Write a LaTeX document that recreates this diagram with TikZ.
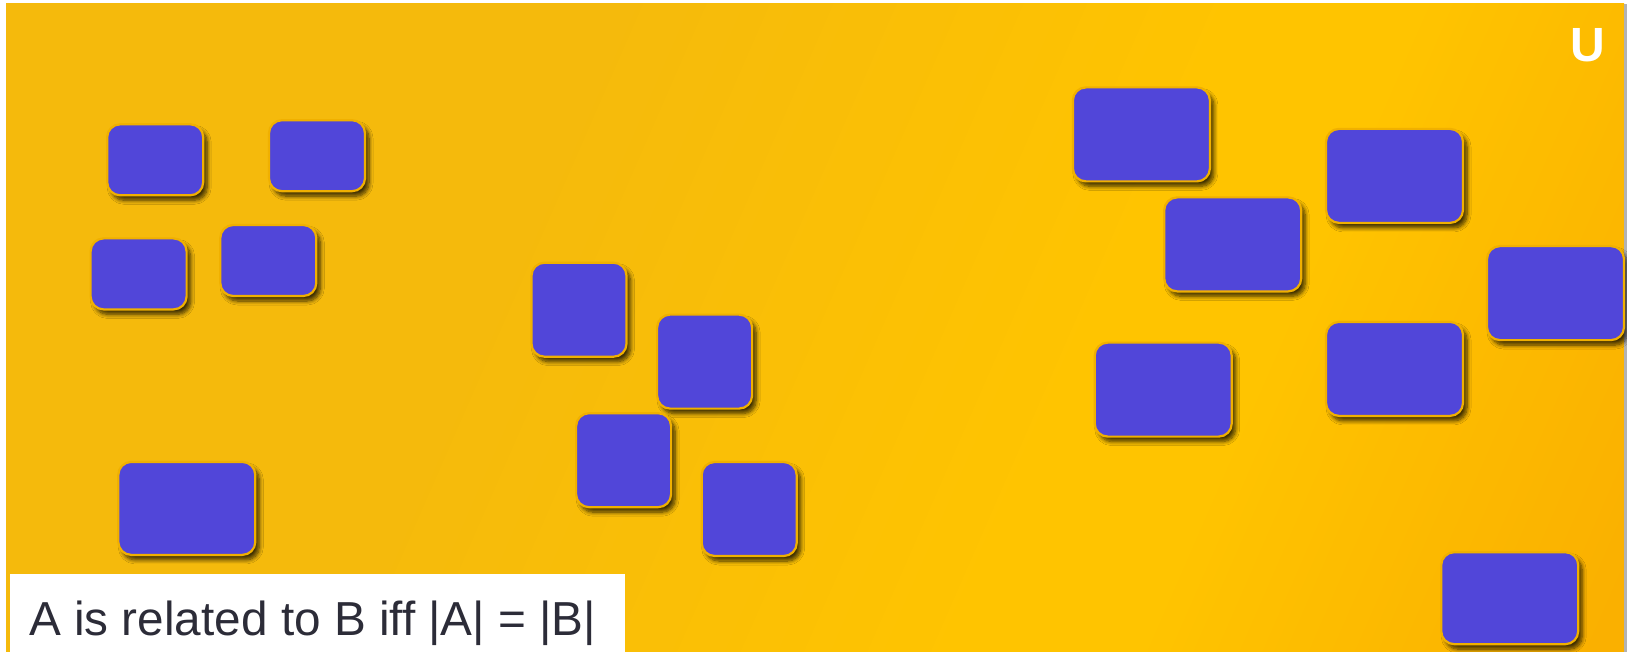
\documentclass[tikz,border=0pt]{standalone}
\usepackage{fontspec}
\setmainfont{Liberation Sans}
\usetikzlibrary{shadows.blur}
\definecolor{bgleft}{HTML}{F5BA0C}
\definecolor{bgmid}{HTML}{FFC400}
\definecolor{bgright}{HTML}{FAB000}
\definecolor{boxblue}{HTML}{5146D9}
\definecolor{boxedge}{HTML}{F0B000}
\definecolor{txt}{HTML}{2C2C38}
\pgfdeclarehorizontalshading{bgshade}{100bp}{color(0bp)=(bgleft); color(38bp)=(bgleft); color(60bp)=(bgmid); color(66bp)=(bgmid); color(82bp)=(bgright); color(100bp)=(bgright)}
\tikzset{
  slotbox/.style={draw=boxedge, line width=2.2pt, fill=boxblue, rounded corners=13pt, inner sep=0pt,
    blur shadow={shadow xshift=4pt, shadow yshift=-5pt, shadow blur steps=8, shadow opacity=75, shadow blur radius=4pt}},
  smallbox/.style={slotbox, minimum width=96pt, minimum height=71pt},
  sqbox/.style={slotbox, minimum width=95pt, minimum height=94pt},
  bigbox/.style={slotbox, minimum width=137pt, minimum height=94pt},
}
\begin{document}
\begin{tikzpicture}[x=1pt,y=-1pt]
\useasboundingbox (0,0) rectangle (1627,652);
\fill[white] (0,0) rectangle (1627,652);
\shade[shading=bgshade, shading angle=-23.6] (6,4) rectangle (1624,652);
\fill[gray!60] (1624,4) rectangle (1627,652);
% boxes
\node[smallbox] (b1) at (155.2,159.8) {};
\node[smallbox] (b2) at (317,155.7) {};
\node[smallbox] (b3) at (138.6,273.9) {};
\node[smallbox] (b4) at (268.3,260.5) {};
\node[bigbox, minimum height=93pt] (b5) at (186.8,508.4) {};
\node[sqbox] (b6) at (579,309.7) {};
\node[sqbox] (b7) at (704.6,361.6) {};
\node[sqbox] (b8) at (623.6,460.2) {};
\node[sqbox] (b9) at (749.2,509) {};
\node[bigbox] (b10) at (1141.4,134.4) {};
\node[bigbox] (b11) at (1394.5,175.9) {};
\node[bigbox] (b12) at (1232.7,244.4) {};
\node[bigbox] (b13) at (1555.5,293.1) {};
\node[bigbox] (b14) at (1163.2,389.6) {};
\node[bigbox] (b15) at (1394.5,368.9) {};
\node[bigbox, minimum height=92pt] (b16) at (1509.7,598.2) {};
% logo
\node[text=white, font=\bfseries\fontsize{48}{50}\selectfont, anchor=base] (logo) at (1587.5,62) {U};
% caption
\fill[white] (10,574) rectangle (625,652);
\node[text=txt, font=\fontsize{47.7}{54}\selectfont, anchor=base west, inner sep=0pt] (cap) at (29,635) {A is related to B iff |A| = |B|};
\end{tikzpicture}
\end{document}
